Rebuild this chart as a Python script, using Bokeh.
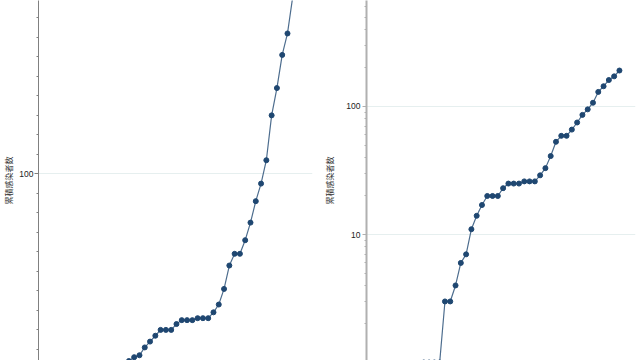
from bokeh.plotting import figure
from bokeh.layouts import row
from bokeh.models import (Range1d, SingleIntervalTicker, LogTicker, BasicTickFormatter,
                          ColumnDataSource)
from bokeh.embed import file_html
from bokeh.resources import INLINE

# ---- data (cumulative infections per day) ----
days = list(range(38))
cases = [1, 1, 1, 1, 3, 3, 4, 6, 7, 11, 14, 17, 20, 20, 20, 23, 25, 25, 25, 26, 26, 26,
         29, 33, 41, 53, 59, 59, 66, 75, 86, 95, 107, 130, 144, 161, 172, 191]
y_label = "累積感染者数"

LINE_COLOR = "#4d6d8e"
DOT_COLOR = "#1f4771"
GRID_COLOR = "#e6efef"


def make_fig(width, left, right, y_type, x_rng, y_rng, axis_color, axis_width,
             tick_standoff, label_standoff):
    p = figure(width=width, height=360, y_axis_type=y_type, x_axis_location=None,
               output_backend="svg", toolbar_location=None,
               min_border_left=left, min_border_right=right,
               min_border_top=0, min_border_bottom=0,
               x_range=Range1d(*x_rng), y_range=Range1d(*y_rng))
    p.outline_line_color = None
    p.background_fill_color = "white"
    p.border_fill_color = "white"
    p.xgrid.visible = False
    p.ygrid.grid_line_color = GRID_COLOR
    p.ygrid.grid_line_width = 1
    ax = p.yaxis[0]
    ax.axis_line_color = axis_color
    ax.axis_line_width = axis_width
    ax.major_tick_line_color = axis_color
    ax.minor_tick_line_color = axis_color
    ax.major_tick_out = 4
    ax.major_tick_in = 0
    ax.minor_tick_out = 2
    ax.minor_tick_in = 0
    ax.major_label_standoff = tick_standoff
    ax.major_label_text_font = "Liberation Sans"
    ax.major_label_text_font_size = "8.5px"
    ax.major_label_text_color = "#222222"
    ax.formatter = BasicTickFormatter()
    ax.axis_label = y_label
    ax.axis_label_text_font = "Noto Sans CJK JP"
    ax.axis_label_text_font_size = "8px"
    ax.axis_label_text_font_style = "normal"
    ax.axis_label_text_color = "#333333"
    ax.axis_label_standoff = label_standoff
    src = ColumnDataSource(dict(x=days, y=cases))
    p.line("x", "y", source=src, line_color=LINE_COLOR, line_width=1.2)
    p.scatter("x", "y", source=src, size=5, fill_color=DOT_COLOR, line_color=DOT_COLOR)
    return p


# left: linear scale
p1 = make_fig(320, 38, 8, "linear", (-11.10, 40.73), (4.3, 188.9), "#808080", 1, 1, 2)
p1.yaxis[0].ticker = SingleIntervalTicker(interval=100, num_minor_ticks=10)

# right: log scale
p2 = make_fig(320, 46, 5, "log", (-10.84, 40.04), (1.037, 673), "#b0b0b0", 2, 2, 8)
p2.yaxis[0].ticker = LogTicker(num_minor_ticks=10)

layout = row(p1, p2)
open("out.html", "w").write(file_html(layout, INLINE))
